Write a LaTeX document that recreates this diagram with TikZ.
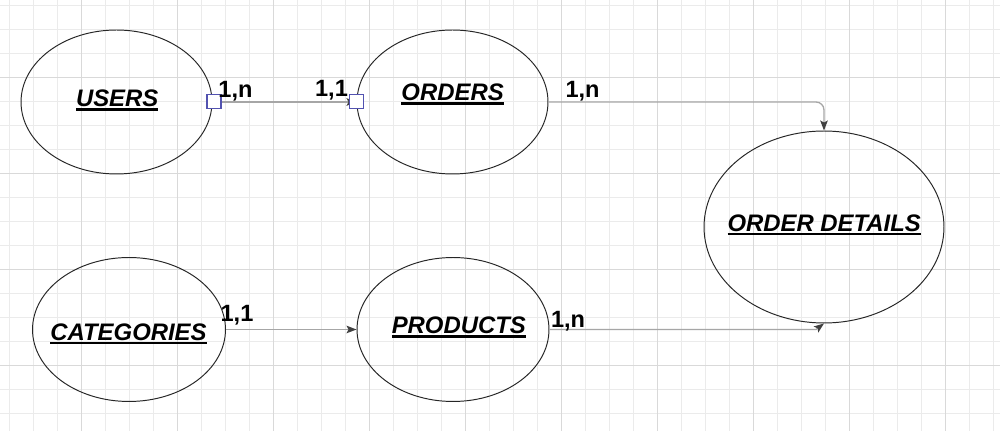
\documentclass[tikz,border=0pt]{standalone}
\usepackage{fontspec}
\setsansfont{Liberation Sans}
\usetikzlibrary{shapes.geometric,arrows.meta}
\definecolor{gridminor}{HTML}{EBEBEB}
\definecolor{gridmajor}{HTML}{D9D9D9}
\definecolor{linkgray}{HTML}{A6A6A6}
\definecolor{portblue}{HTML}{5252B0}
\newcommand{\ulname}[1]{\vtop{\hbox{#1}\kern0.7pt\hrule height 1.2pt}}
\tikzset{
  entity/.style={draw=black!85, ellipse, inner sep=0pt, line width=0.55pt},
  enttext/.style={anchor=base, inner sep=0pt, font=\sffamily\bfseries\itshape\fontsize{13.6}{15}\selectfont},
  card/.style={anchor=base, inner sep=0pt, font=\sffamily\bfseries\fontsize{13.4}{15}\selectfont},
  link/.style={draw=linkgray, line width=0.75pt, -{Stealth[length=2mm, width=1.5mm, inset=0.4mm, color=black!75]}},
  port/.style={draw=portblue, fill=white, line width=0.8pt, minimum size=0.28cm, inner sep=0pt}
}
\begin{document}
\begin{tikzpicture}[x=0.02cm, y=-0.02cm]
    \useasboundingbox (0,0) rectangle (1000,431);
    \fill[white] (0,0) rectangle (1000,431);
    \foreach \gx in {0,...,41}
      \draw[gridminor, line width=0.5pt] (9.7+24*\gx,0) -- (9.7+24*\gx,431);
    \foreach \gy in {0,...,17}
      \draw[gridminor, line width=0.5pt] (0,5+24*\gy) -- (1000,5+24*\gy);
    \foreach \gx in {0,...,9}
      \draw[gridmajor, line width=0.5pt] (81.7+96*\gx,0) -- (81.7+96*\gx,431);
    \foreach \gy in {0,...,3}
      \draw[gridmajor, line width=0.5pt] (0,77+96*\gy) -- (1000,77+96*\gy);

    \node[entity, minimum width=3.82cm, minimum height=2.88cm] (users) at (116.5,102) {};
    \node[entity, minimum width=3.82cm, minimum height=2.88cm] (orders) at (452.5,102) {};
    \node[entity, minimum width=4.8cm, minimum height=3.84cm] (details) at (824,227) {};
    \node[entity, minimum width=3.86cm, minimum height=2.88cm] (categories) at (129,329.5) {};
    \node[entity, minimum width=3.84cm, minimum height=2.88cm] (products) at (453,329.5) {};

    \node[enttext] (userstext) at (117.2,107) {\ulname{USERS}};
    \node[enttext] (orderstext) at (452.6,101) {\ulname{ORDERS}};
    \node[enttext] (detailstext) at (824.2,231.7) {\ulname{ORDER DETAILS}};
    \node[enttext] (categoriestext) at (128.5,340.7) {\ulname{CATEGORIES}};
    \node[enttext] (productstext) at (458.8,334) {\ulname{PRODUCTS}};

    \draw[link] (users.east) -- (orders.west);
    \draw[link, rounded corners=0.16cm] (orders.east) -| (details.north);
    \draw[link] (categories.east) -- (products.west);
    \draw[link] (products.east) -- (816,329.5) -- (details.south);

    \node[port] (usersport) at (214,101.5) {};
    \node[port] (ordersport) at (356.3,101.5) {};

    \node[card] (userscard) at (235.5,97.3) {1,n};
    \node[card] (ordersin) at (331.5,97) {1,1};
    \node[card] (ordersout) at (582.5,97.3) {1,n};
    \node[card] (categoriescard) at (237,321.7) {1,1};
    \node[card] (productscard) at (568,327.3) {1,n};
\end{tikzpicture}
\end{document}
